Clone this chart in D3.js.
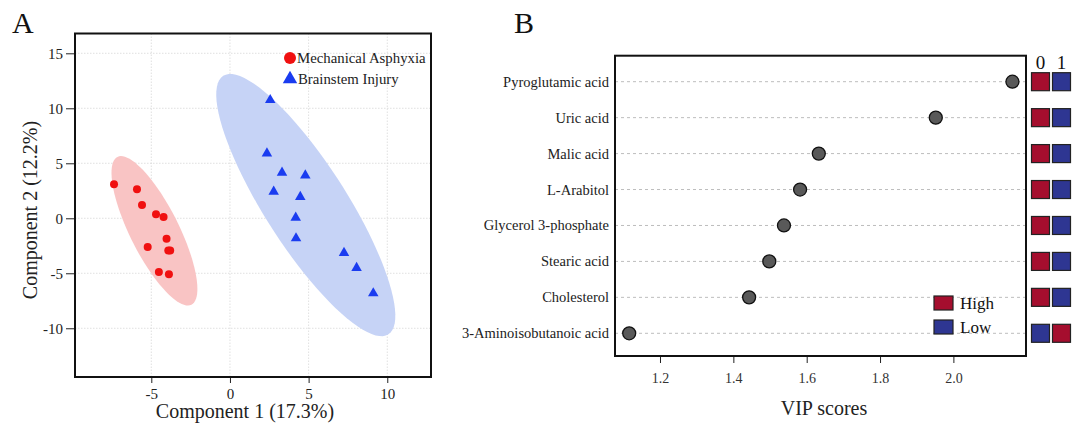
<!DOCTYPE html>
<html>
<head>
<meta charset="utf-8">
<script src="https://cdn.jsdelivr.net/npm/d3@7"></script>
<style>
  body { margin: 0; background: #fff; }
  svg { font-family: "Liberation Serif", "Times New Roman", serif; }
</style>
</head>
<body>
<svg id="chart" width="1073" height="432"></svg>
<script>
// PLS-DA scores (panel A)
const asphyxiaX = [-7.37, -5.91, -5.59, -4.70, -4.22, -4.03, -5.23, -3.92, -3.80, -4.52, -3.88];
const asphyxiaY = [3.09, 2.64, 1.21, 0.36, 0.12, -1.85, -2.61, -2.94, -2.94, -4.88, -5.09];
const brainstemX = [2.56, 2.35, 3.31, 4.79, 2.78, 4.47, 4.18, 4.20, 7.25, 8.05, 9.11];
const brainstemY = [10.75, 5.90, 4.15, 3.90, 2.42, 1.94, 0.06, -1.82, -3.15, -4.51, -6.82];
// confidence ellipses: centre + two semi-axis vectors, in data units
const asphyxiaEllipse = { cx: -4.80, cy: -1.14, ax: 2.35, ay: -6.72, bx: 1.39, by: 0.99 };
const brainstemEllipse = { cx: 4.82, cy: 1.20, ax: 5.25, ay: -11.75, bx: 2.20, by: 2.00 };
const scoreTicks = [-10, -5, 0, 5, 10, 15];
const scoreXTicks = [-5, 0, 5, 10];

// VIP scores (panel B)
const metabolites = ["Pyroglutamic acid", "Uric acid", "Malic acid", "L-Arabitol",
  "Glycerol 3-phosphate", "Stearic acid", "Cholesterol", "3-Aminoisobutanoic acid"];
const vipScores = [2.161, 1.952, 1.633, 1.582, 1.538, 1.498, 1.443, 1.116];
const group0 = ["High", "High", "High", "High", "High", "High", "High", "Low"];
const group1 = ["Low", "Low", "Low", "Low", "Low", "Low", "Low", "High"];
const vipTicks = [1.2, 1.4, 1.6, 1.8, 2.0];

const svg = d3.select("#chart");
const serif = "Liberation Serif";

// ---------- Panel A ----------
const ax = d3.scaleLinear().domain([-9.85, 12.78]).range([75, 431]);
const ay = d3.scaleLinear().domain([-14.43, 16.8]).range([377, 33.5]);

const gA = svg.append("g");

// dotted grid
gA.selectAll("line.gx").data(scoreXTicks).enter().append("line")
  .attr("x1", d => ax(d)).attr("x2", d => ax(d))
  .attr("y1", ay.range()[0]).attr("y2", ay.range()[1])
  .attr("stroke", "#d8d8d8").attr("stroke-width", 0.8).attr("stroke-dasharray", "1.5,1.5");
gA.selectAll("line.gy").data(scoreTicks).enter().append("line")
  .attr("x1", ax.range()[0]).attr("x2", ax.range()[1])
  .attr("y1", d => ay(d)).attr("y2", d => ay(d))
  .attr("stroke", "#d8d8d8").attr("stroke-width", 0.8).attr("stroke-dasharray", "1.5,1.5");

function ellipsePath(e) {
  const pts = d3.range(0, 361, 4).map(deg => {
    const t = deg * Math.PI / 180;
    return [ax(e.cx + Math.cos(t) * e.ax + Math.sin(t) * e.bx),
            ay(e.cy + Math.cos(t) * e.ay + Math.sin(t) * e.by)];
  });
  return d3.line().curve(d3.curveLinearClosed)(pts);
}
gA.append("path").attr("d", ellipsePath(asphyxiaEllipse)).attr("fill", "#f9c4c4");
gA.append("path").attr("d", ellipsePath(brainstemEllipse)).attr("fill", "#c6d3f6");

gA.selectAll("circle.ma").data(asphyxiaX).enter().append("circle")
  .attr("cx", d => ax(d)).attr("cy", (d, i) => ay(asphyxiaY[i]))
  .attr("r", 4).attr("fill", "#f01010");

const tri = d3.symbol().type(d3.symbolTriangle).size(48);
gA.selectAll("path.bi").data(brainstemX).enter().append("path")
  .attr("d", tri)
  .attr("transform", (d, i) => `translate(${ax(d)},${ay(brainstemY[i])})`)
  .attr("fill", "#1a3cf0");

// axes (plain hyphen for negatives, like the original)
const axisA_y = gA.append("g").attr("transform", `translate(75,0)`)
  .call(d3.axisLeft(ay).tickValues(scoreTicks).tickFormat(d => String(d)).tickSize(9).tickPadding(3));
const axisA_x = gA.append("g").attr("transform", `translate(0,377)`)
  .call(d3.axisBottom(ax).tickValues(scoreXTicks).tickFormat(d => String(d)).tickSize(6).tickPadding(5));
[axisA_y, axisA_x].forEach(a => {
  a.attr("font-family", serif).attr("font-size", 15);
  a.select(".domain").remove();
  a.selectAll("text").attr("fill", "#222");
  a.selectAll("line").attr("stroke", "#222");
});
gA.append("rect").attr("x", 75).attr("y", 33.5).attr("width", 356).attr("height", 343.5)
  .attr("fill", "none").attr("stroke", "#111").attr("stroke-width", 2);

gA.append("text").attr("x", 245).attr("y", 418).attr("text-anchor", "middle")
  .attr("font-size", 20).attr("fill", "#222").text("Component 1 (17.3%)");
gA.append("text").attr("transform", "translate(37,210) rotate(-90)").attr("text-anchor", "middle")
  .attr("font-size", 20).attr("fill", "#222").text("Component 2 (12.2%)");

// legend
gA.append("circle").attr("cx", 290).attr("cy", 58).attr("r", 6).attr("fill", "#f01010");
gA.append("text").attr("x", 297).attr("y", 63).attr("font-size", 14.8).attr("fill", "#222")
  .text("Mechanical Asphyxia");
gA.append("path").attr("d", d3.symbol().type(d3.symbolTriangle).size(90))
  .attr("transform", "translate(290,79)").attr("fill", "#1a3cf0");
gA.append("text").attr("x", 298).attr("y", 84).attr("font-size", 14.8).attr("fill", "#222")
  .text("Brainstem Injury");

svg.append("text").attr("x", 12).attr("y", 33).attr("font-size", 30).attr("fill", "#111").text("A");

// ---------- Panel B ----------
const bx = d3.scaleLinear().domain([1.0773, 2.198]).range([615, 1026]);
const by = d3.scalePoint().domain(metabolites).range([81.7, 333.3]);
const heatColor = { High: "#a50e2e", Low: "#2e3692" };

const gB = svg.append("g");

gB.selectAll("line.row").data(metabolites).enter().append("line")
  .attr("x1", 615).attr("x2", 1026)
  .attr("y1", d => by(d)).attr("y2", d => by(d))
  .attr("stroke", "#bdbdbd").attr("stroke-width", 1).attr("stroke-dasharray", "3,3");

gB.selectAll("circle.vip").data(vipScores).enter().append("circle")
  .attr("cx", d => bx(d)).attr("cy", (d, i) => by(metabolites[i]))
  .attr("r", 6.5).attr("fill", "#595959").attr("stroke", "#111").attr("stroke-width", 1.3);

gB.selectAll("text.lab").data(metabolites).enter().append("text")
  .attr("x", 609).attr("y", d => by(d) + 5).attr("text-anchor", "end")
  .attr("font-size", 14.5).attr("fill", "#222").text(d => d);

const axisB = gB.append("g").attr("transform", "translate(0,356)")
  .call(d3.axisBottom(bx).tickValues(vipTicks).tickFormat(d3.format(".1f")).tickSize(7).tickPadding(10));
axisB.attr("font-family", serif).attr("font-size", 14);
axisB.select(".domain").remove();
axisB.selectAll("text").attr("fill", "#333");
axisB.selectAll("line").attr("stroke", "#222");

gB.append("rect").attr("x", 615).attr("y", 55.7).attr("width", 411).attr("height", 300.3)
  .attr("fill", "none").attr("stroke", "#111").attr("stroke-width", 2);

gB.append("text").attr("x", 824).attr("y", 415).attr("text-anchor", "middle")
  .attr("font-size", 20).attr("fill", "#222").text("VIP scores");

// heat strip
const cols = [group0, group1];
const colX = [1031.5, 1052.5];
cols.forEach((col, c) => {
  gB.selectAll(`rect.h${c}`).data(col).enter().append("rect")
    .attr("x", colX[c]).attr("y", (d, i) => by(metabolites[i]) - 9)
    .attr("width", 18).attr("height", 18)
    .attr("fill", d => heatColor[d]).attr("stroke", "#222").attr("stroke-width", 1.2);
  gB.append("text").attr("x", colX[c] + 9).attr("y", 69).attr("text-anchor", "middle")
    .attr("font-size", 19).attr("fill", "#111").text(c);
});

// High / Low legend
[["High", 303], ["Low", 327]].forEach(([k, y]) => {
  gB.append("rect").attr("x", 934).attr("y", y - 7).attr("width", 19).attr("height", 14)
    .attr("fill", heatColor[k]).attr("stroke", "#222").attr("stroke-width", 1.2);
  gB.append("text").attr("x", 960).attr("y", y + 6).attr("font-size", 17).attr("fill", "#111").text(k);
});

svg.append("text").attr("x", 514).attr("y", 33).attr("font-size", 30).attr("fill", "#111").text("B");
</script>
</body>
</html>
